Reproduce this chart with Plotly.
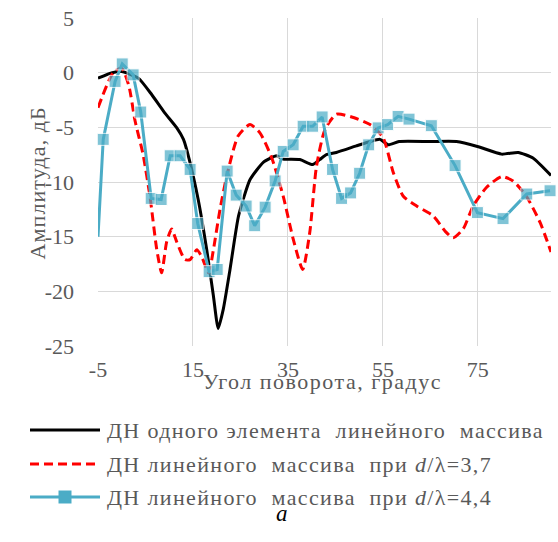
import plotly.graph_objects as go

# Single element pattern
single_x = [-5, -2, 0, 3.5, 6.3, 9.1, 11.6, 13, 14.2, 16.1, 17.9, 19.3, 20.3, 21.4, 22.8, 24.6,
            27, 29.8, 32.6, 34, 37.5, 40.2, 41.7, 43.1, 45.2, 49.4, 52.3, 54.4, 56.1, 58.4,
            64.9, 70.5, 74.9, 80, 83.5, 86.6, 90.4]
single_y = [-0.5, 0, 0.1, -0.5, -2.0, -3.7, -5.05, -6.1, -7.9, -11.6, -16.2, -20.4, -23.4, -21.6,
            -18.0, -13.1, -9.8, -8.2, -7.6, -7.9, -7.95, -8.4, -7.95, -7.5, -7.3, -6.7, -6.3,
            -6.1, -6.6, -6.3, -6.3, -6.3, -6.75, -7.45, -7.3, -7.8, -9.4]

# Linear array, d/lambda = 3.7
arr37_x = [-5, -1.8, 0, 1.5, 2.8, 4.5, 6, 7.35, 8.4, 9.45, 10.5, 11.6, 13.3, 14.4, 15.8, 16.8,
           18.3, 19.3, 20.7, 22.1, 24.5, 27, 29.1, 31.6, 34, 36.1, 38.1, 39.6, 41, 42.8, 45.2,
           48.8, 52.3, 55, 57.2, 59.3, 62.1, 65.6, 68.1, 69.8, 71.9, 74, 76.8, 80, 82.4, 85.2,
           88.1, 90.4]
arr37_y = [-3.2, 0, 0.4, -1.2, -4.4, -7.5, -11.5, -16.1, -18.3, -15.5, -14.3, -15.5, -17.1,
           -17.1, -16.2, -16.8, -18.3, -16.2, -12.5, -9.5, -5.8, -4.75, -5.5, -7.8, -11.3,
           -15.2, -18.0, -14.6, -8.6, -5.2, -3.8, -4.1, -4.75, -5.9, -9.15, -11.3, -12.2,
           -13.1, -14.5, -15.1, -14.3, -12.2, -10.5, -9.5, -9.9, -11.3, -13.7, -16.4]

# Linear array, d/lambda = 4.4
arr44_x = [-5, -3.9, -1.4, 0.1, 2.4, 4.0, 6.2, 8.3, 10.2, 12.3, 14.4, 16.0, 18.4, 20.1, 22.2,
           24.1, 26.2, 28.0, 30.2, 32.3, 34.0, 36.1, 38.2, 40.2, 42.2, 44.4, 46.3, 48.2, 50.1,
           52.0, 54.0, 56.0, 58.2, 60.5, 65.2, 70.2, 74.9, 80.3, 85.3, 90.2]
arr44_y = [-15, -6.1, -0.8, 0.8, -0.2, -3.6, -11.5, -11.6, -7.6, -7.6, -8.85, -13.8, -18.2,
           -18.0, -9.0, -11.2, -12.2, -14.0, -12.3, -9.9, -7.2, -6.6, -4.9, -4.9, -4.05, -8.85,
           -11.5, -11.0, -9.2, -6.6, -5.05, -4.75, -4.0, -4.25, -4.85, -8.5, -12.8, -13.35,
           -11.1, -10.8]

legend_labels = [
    "ДН одного элемента&nbsp; линейного&nbsp; массива",
    "ДН линейного&nbsp; массива&nbsp; при <i>d</i>/λ=3,7",
    "ДН линейного&nbsp; массива&nbsp; при <i>d</i>/λ=4,4",
]

x_ticks = [-5, 15, 35, 55, 75]
x_ticktext = ["-5", "15", "35", "55", "75"]
y_ticks = [5, 0, -5, -10, -15, -20, -25]
y_ticktext = ["5", "0", "-5", "-10", "-15", "-20", "-25"]

W, H = 558, 542
L, R, T, B = 98, 7, 18, 196
PW, PH = W - L - R, H - T - B

def px(x):
    return (x - L) / PW

def py(y):
    return (H - B - y) / PH

def spaced(s, sp):
    return '<span style="letter-spacing:%spx">%s</span>' % (sp, s)

SERIF = "Liberation Serif"
GRAY = "#595959"
CYAN = "#4BACC6"
GRID = "#D9D9D9"

fig = go.Figure()
fig.add_trace(go.Scatter(x=single_x, y=single_y, mode="lines",
                         line=dict(color="black", width=3, shape="spline", smoothing=0.5),
                         showlegend=False))
fig.add_trace(go.Scatter(x=arr37_x, y=arr37_y, mode="lines",
                         line=dict(color="#FF0000", width=3, dash="9px,5px",
                                   shape="spline", smoothing=0.6),
                         showlegend=False))
fig.add_trace(go.Scatter(x=arr44_x, y=arr44_y, mode="lines+markers",
                         line=dict(color=CYAN, width=3),
                         marker=dict(symbol="square", color=CYAN,
                                     size=[0] + [12] * (len(arr44_x) - 1)),
                         cliponaxis=False, showlegend=False))

fig.update_xaxes(range=[-5, 90.4], tickvals=x_ticks, ticktext=x_ticktext, showgrid=True,
                 gridcolor=GRID, gridwidth=1, zeroline=False, showline=False, ticks="",
                 tickfont=dict(family=SERIF, size=22, color=GRAY),
                 ticklabelstandoff=8)
fig.update_yaxes(range=[-25, 5], tickvals=y_ticks, ticktext=y_ticktext, showgrid=True,
                 gridcolor=GRID, gridwidth=1, zeroline=False, showline=False, ticks="",
                 tickfont=dict(family=SERIF, size=22, color=GRAY),
                 ticklabelstandoff=23)

shapes = []
annotations = []

# axis titles
annotations.append(dict(x=px(322), y=py(396), xref="paper", yref="paper",
                        text=spaced("Угол поворота, градус", 1.5), showarrow=False,
                        font=dict(family=SERIF, size=22, color=GRAY)))
annotations.append(dict(x=px(22), y=py(183), xref="paper", yref="paper",
                        text=spaced("Амплитуда, дБ", 1.1), showarrow=False, textangle=-90,
                        font=dict(family=SERIF, size=22, color=GRAY)))

# legend drawn below the plot
rows = [430, 464, 497]
shapes.append(dict(type="line", xref="paper", yref="paper", x0=px(30), x1=px(100),
                   y0=py(rows[0]), y1=py(rows[0]), line=dict(color="black", width=3)))
shapes.append(dict(type="line", xref="paper", yref="paper", x0=px(30), x1=px(100),
                   y0=py(rows[1]), y1=py(rows[1]),
                   line=dict(color="#FF0000", width=3, dash="9px,5px")))
shapes.append(dict(type="line", xref="paper", yref="paper", x0=px(30), x1=px(100),
                   y0=py(rows[2]), y1=py(rows[2]), line=dict(color=CYAN, width=3)))
shapes.append(dict(type="rect", xref="paper", yref="paper", x0=px(58.5), x1=px(71.5),
                   y0=py(rows[2] - 6.5), y1=py(rows[2] + 6.5),
                   fillcolor=CYAN, line=dict(width=0)))
for r, lab in zip(rows, legend_labels):
    annotations.append(dict(x=px(105), y=py(r), xref="paper", yref="paper",
                            xanchor="left", yanchor="middle", text=spaced(lab, 1.35),
                            showarrow=False,
                            font=dict(family=SERIF, size=22, color=GRAY)))

# caption
annotations.append(dict(x=px(282), y=py(528), xref="paper", yref="paper",
                        text="<i>а</i>", showarrow=False,
                        font=dict(family=SERIF, size=23, color="black")))

fig.update_layout(width=W, height=H, margin=dict(l=L, r=R, t=T, b=B),
                  plot_bgcolor="white", paper_bgcolor="white",
                  shapes=shapes, annotations=annotations, showlegend=False)

fig.write_html("out.html")
